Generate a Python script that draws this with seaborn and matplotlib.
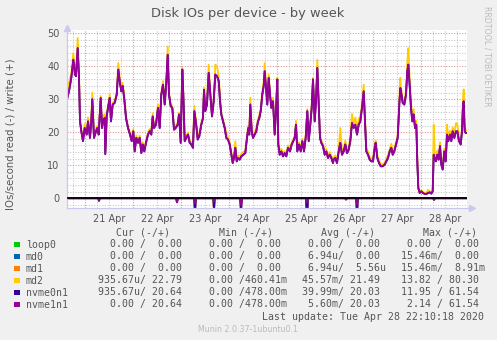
import matplotlib
matplotlib.use("Agg")
import numpy as np
import pandas as pd
import matplotlib.pyplot as plt
import seaborn as sns
from matplotlib.ticker import MultipleLocator, FuncFormatter, NullFormatter
from matplotlib.patches import Rectangle

# ---------------- data ----------------
devices = ["loop0", "md0", "md1", "md2", "nvme0n1", "nvme1n1"]
colors = ["#00CC00", "#0066B3", "#FF8000", "#FFCC00", "#330099", "#990099"]
day_labels = ["21 Apr", "22 Apr", "23 Apr", "24 Apr", "25 Apr", "26 Apr", "27 Apr", "28 Apr"]

# hours since 21 Apr 00:00 (write side, +)
w_hours = [-9.15, -8.15, -7.0, -6.0, -5.15, -4.65, -3.8, -3.15, -2.65, -2.0, -1.15, -0.3,
           0.7, 1.35, 2.35, 3.0, 3.5, 4.35, 5.35, 6.0, 6.7, 7.7, 8.35, 9.0, 9.7, 10.0, 10.7,
           11.35, 12.2, 12.85, 13.7, 14.7, 15.7, 16.5, 17.2, 18.0, 18.7, 19.5, 20.35, 21.35,
           22.35, 23.2, 24.0, 24.7, 25.5, 26.35, 27.2, 28.0, 28.7, 29.5, 30.35, 31.35, 32.2,
           33.0, 33.7, 34.35, 35.35, 36.35, 37.2, 38.0, 38.85, 39.7, 40.5, 41.2, 41.85, 42.7,
           43.5, 44.35, 45.2, 46.2, 46.85, 47.7, 48.5, 49.0, 49.7, 50.5, 51.35, 52.2, 53.0,
           53.85, 54.5, 55.35, 56.2, 57.0,
           58.0, 58.85, 59.35, 60.0, 60.85, 61.7, 62.5, 63.35, 64.2, 65.0, 65.85, 66.7, 67.35,
           68.0, 68.85, 69.7, 70.5, 71.35, 72.2, 73.0, 73.7, 74.35, 75.0, 75.7, 76.35, 77.2,
           78.0, 79.0, 80.0, 80.85, 81.5, 82.0, 82.5, 83.2, 83.85, 84.7, 85.5, 86.35, 87.0,
           87.7, 88.5, 89.2, 89.7, 90.35, 91.0, 91.7, 92.35, 93.0, 93.85, 94.7, 95.35, 96.0,
           96.5, 97.2, 98.0, 98.85, 99.7, 100.5, 101.35, 102.35, 103.2, 104.0, 104.7, 105.35,
           106.0, 106.85, 107.7, 108.5, 109.35, 110.2, 111.0, 111.7, 112.5, 113.2, 113.85,
           114.7, 115.35, 116.0, 116.7, 117.35, 118.0, 118.85, 119.7, 120.5, 121.35, 122.2,
           123.0, 123.85,
           124.2, 125.0, 125.85, 126.7, 127.5, 128.35, 129.2, 130.0, 130.85, 131.7, 132.5,
           133.35, 134.2, 135.0, 135.85, 136.7, 137.5, 138.35, 139.2, 139.85, 140.5, 141.35,
           142.2, 143.0, 143.85, 144.7, 145.2, 146.0, 146.85, 147.7, 148.7, 149.7, 150.5,
           151.35, 152.2, 153.0, 153.7, 154.5, 155.35, 156.2, 157.0, 157.5, 157.85, 158.7,
           159.5, 160.35, 161.0, 161.5, 162.2, 162.85, 163.5, 164.2, 164.85, 165.5, 166.0,
           166.5, 167.2, 168.0, 168.85, 169.7, 170.5, 171.35, 172.2, 173.0, 173.7, 174.2,
           174.7, 175.35, 176.0, 176.7, 177.35, 178.0, 178.7, 179.5, 180.2, 180.85, 181.5,
           182.35, 183.0, 183.7, 184.5, 185.35, 186.0, 186.85, 187.7, 188.35, 188.85, 189.2,
           189.7, 190.2, 190.85]

nvme1n1_w = [30.0, 32.4, 36.5, 42.0, 37.5, 37.0, 45.5, 36.5, 23.3, 20.3, 17.3, 21.3,
             19.3, 23.3, 18.3, 23.3, 30.0, 18.3, 20.3, 21.3, 19.3, 30.4, 21.3, 23.8, 24.3, 13.4, 24.8,
             27.4, 30.4, 23.3, 28.4, 28.9, 31.4, 39.0, 35.5, 32.4, 34.0, 30.0, 24.3, 21.3,
             19.3, 17.3, 20.3, 14.2, 18.3, 16.8, 18.3, 13.7, 16.3, 14.2, 16.8, 19.3, 20.3,
             19.3, 24.8, 21.3, 22.3, 27.4, 21.3, 31.4, 34.4, 28.4, 35.0, 43.5, 31.4, 27.9,
             27.4, 20.8, 21.3, 22.3, 25.4, 16.8, 39.0, 31.4, 17.3, 18.3, 19.3, 16.8, 16.3,
             15.3, 26.4, 22.8, 17.8, 18.8,
             22.3, 24.3, 32.9, 26.4, 28.4, 38.0, 31.4, 24.8, 29.4, 37.5, 37.0, 35.5, 29.4,
             25.4, 23.3, 21.3, 18.3, 17.8, 16.3, 13.2, 10.7, 12.2, 15.3, 11.2, 12.2, 11.7,
             12.7, 13.2, 13.7, 18.3, 21.3, 19.3, 28.4, 20.3, 18.3, 19.3, 20.3, 23.3, 24.3,
             26.4, 31.4, 34.0, 38.5, 33.4, 28.4, 36.5, 31.4, 27.4, 29.4, 19.3, 26.4, 36.0,
             16.3, 13.2, 14.2, 12.7, 13.7, 12.7, 15.3, 14.2, 16.3, 17.3, 18.3, 22.3,
             14.2, 16.3, 14.2, 17.3, 14.2, 18.3, 26.4, 17.3, 22.3, 27.4, 36.0,
             23.3, 29.4, 39.5, 28.4, 18.3, 16.8, 15.8, 13.2, 14.2, 12.2, 13.2,
             12.2, 10.7,
             11.7, 12.2, 10.7, 14.2, 16.8, 13.2, 14.2, 16.3, 13.7, 14.7, 17.3,
             22.8, 21.3, 22.3, 19.3, 22.3, 23.3, 27.4, 32.4, 23.3, 14.2, 13.2,
             11.7, 11.2, 11.2, 15.3, 16.8, 12.2, 10.7, 9.7, 9.7, 10.2, 11.2,
             12.2, 14.2, 15.3, 13.2, 14.2, 16.3, 18.3, 28.4, 33.4, 32.4, 28.9,
             28.4, 31.4, 38.5, 40.5, 34.0, 27.4, 23.3, 25.4, 21.3, 22.3, 11.2,
             3.1, 1.6, 2.1, 1.6, 1.3, 1.3, 1.6, 1.8, 1.4, 2.1, 13.2,
             12.2, 11.2, 13.2, 11.7, 15.8, 10.2, 8.7, 14.2, 11.2, 19.3, 17.3,
             19.3, 17.3, 20.3, 18.3, 20.3, 20.3, 17.3, 16.3, 20.3, 28.4, 29.4,
             20.3, 19.8, 19.8]

md2_w = [31.5, 35.0, 38.0, 44.0, 39.0, 38.0, 48.6, 38.0, 24.0, 21.0, 18.0, 22.5,
         20.0, 24.5, 19.0, 24.0, 32.0, 19.0, 21.0, 22.0, 20.0, 31.0, 22.0, 25.0, 25.5, 14.0, 25.5,
         28.0, 31.5, 24.0, 29.0, 29.5, 32.0, 41.0, 36.5, 33.5, 35.0, 31.0, 25.0, 22.0,
         20.0, 18.0, 21.0, 15.0, 19.0, 17.5, 19.0, 14.5, 17.0, 15.0, 17.5, 20.0, 21.0,
         20.0, 25.8, 22.0, 23.0, 28.5, 22.0, 32.0, 35.5, 29.0, 36.0, 46.0, 32.0, 28.5,
         28.0, 21.5, 22.0, 23.0, 26.0, 17.5, 39.5, 32.0, 18.0, 19.0, 20.0, 17.5, 17.0,
         16.0, 28.0, 23.5, 18.5, 19.5,
         23.0, 25.0, 33.5, 27.0, 29.5, 40.5, 32.0, 25.5, 30.0, 40.5, 40.0, 37.0, 31.4,
         26.0, 24.0, 22.0, 19.8, 18.5, 17.0, 14.0, 11.5, 13.0, 17.3, 12.0, 13.0, 12.5,
         13.5, 14.0, 14.5, 19.0, 22.0, 20.0, 30.5, 21.0, 19.0, 20.0, 21.5, 24.0, 25.5,
         27.0, 32.5, 35.5, 41.0, 34.5, 29.5, 37.5, 32.0, 28.0, 30.5, 20.0, 27.0, 36.5,
         17.0, 14.0, 15.0, 13.5, 14.3, 13.3, 16.0, 15.0, 17.0, 18.0, 19.0, 23.5,
         15.0, 17.0, 15.0, 18.0, 15.0, 19.0, 27.0, 18.0, 23.0, 28.0, 36.5,
         24.0, 30.0, 42.0, 29.0, 19.0, 17.5, 16.5, 14.0, 15.0, 13.0, 14.0,
         13.0, 11.5,
         12.3, 13.0, 11.5, 15.0, 21.3, 14.0, 15.0, 17.5, 14.5, 15.5, 18.5,
         25.6, 22.5, 24.5, 21.0, 24.0, 25.0, 28.5, 34.4, 24.5, 15.5, 14.0,
         12.5, 12.0, 12.0, 16.3, 17.5, 13.0, 11.5, 10.3, 10.3, 10.8, 12.0,
         13.0, 15.0, 16.5, 14.0, 15.0, 17.0, 19.0, 30.0, 36.5, 33.5, 30.0,
         29.5, 32.5, 41.0, 45.5, 36.0, 29.0, 25.0, 27.0, 22.5, 23.5, 12.0,
         3.5, 2.0, 2.4, 1.9, 1.6, 1.6, 2.6, 2.1, 1.7, 2.5, 22.3,
         13.5, 12.5, 14.5, 12.5, 17.0, 11.0, 9.5, 15.0, 12.0, 22.3, 18.5,
         20.5, 18.5, 21.5, 19.5, 22.8, 22.5, 18.5, 17.0, 21.0, 30.0, 33.0,
         21.5, 20.5, 20.5]

nvme0n1_w = list(nvme1n1_w)   # mirrored pair: identical write rates

# read side (-), magnitudes
r_hours = [-9.15, 6.35, 6.85, 7.35, 45.35, 45.85, 46.35, 54.35, 54.85, 55.35,
           63.85, 64.35, 64.85, 77.35, 77.85, 78.35, 110.35, 110.85, 111.35,
           129.85, 130.35, 130.85, 135.35, 135.85, 136.35, 173.85, 174.35, 174.85, 190.85]
md2_r = [0, 0, 0.9, 0, 0, 1.3, 0, 0, 6.0, 0,
         0, 4.0, 0, 0, 5.0, 0, 0, 13.82, 0,
         0, 0.5, 0, 0, 7.0, 0, 0, 0.5, 0, 0]
nvme0n1_r = [0, 0, 0.8, 0, 0, 1.2, 0, 0, 5.0, 0,
             0, 3.5, 0, 0, 4.5, 0, 0, 11.95, 0,
             0, 0.4, 0, 0, 6.0, 0, 0, 0.5, 0, 0]
nvme1n1_r = [0, 0, 0.6, 0, 0, 1.2, 0, 0, 1.5, 0,
             0, 1.0, 0, 0, 2.1, 0, 0, 1.2, 0,
             0, 0.3, 0, 0, 2.0, 0, 0, 0.4, 0, 0]
zero_hours = [-9.15, 190.85]
zero_vals = [0.0, 0.0]

# legend table
cur_txt = ["  0.00 /  0.00", "  0.00 /  0.00", "  0.00 /  0.00",
           "935.67u/ 22.79", "935.67u/ 20.64", "  0.00 / 20.64"]
min_txt = ["  0.00 /  0.00", "  0.00 /  0.00", "  0.00 /  0.00",
           "  0.00 /460.41m", "  0.00 /478.00m", "  0.00 /478.00m"]
avg_txt = ["  0.00 /  0.00", "  6.94u/  0.00", "  6.94u/  5.56u",
           " 45.57m/ 21.49", " 39.99m/ 20.03", "  5.60m/ 20.03"]
max_txt = ["  0.00 /  0.00", " 15.46m/  0.00", " 15.46m/  8.91m",
           " 13.82 / 80.30", " 11.95 / 61.54", "  2.14 / 61.54"]

# ---------------- build frame ----------------
rows = []
def add(dev, direction, hrs, vals, sign):
    for h, v in zip(hrs, vals):
        rows.append({"hours": h, "value": sign * v, "device": dev, "dir": direction})

for dev in ["loop0", "md0", "md1"]:
    add(dev, "read", zero_hours, zero_vals, -1)
    add(dev, "write", zero_hours, zero_vals, 1)
add("md2", "read", r_hours, md2_r, -1)
add("md2", "write", w_hours, md2_w, 1)
add("nvme0n1", "read", r_hours, nvme0n1_r, -1)
add("nvme0n1", "write", w_hours, nvme0n1_w, 1)
add("nvme1n1", "read", r_hours, nvme1n1_r, -1)
add("nvme1n1", "write", w_hours, nvme1n1_w, 1)
df = pd.DataFrame(rows)

# ---------------- plot ----------------
sns.set_style("white")
plt.rcParams["font.family"] = ["DejaVu Sans"]
TXT = "#555555"

W, H = 497, 340
fig = plt.figure(figsize=(W / 100, H / 100), dpi=100, facecolor="#F0F0F0")
ax = fig.add_axes([67 / W, 1 - 208 / H, 400 / W, 178 / H])
ax.set_facecolor("white")

sns.lineplot(data=df, x="hours", y="value", hue="device", units="dir",
             estimator=None, hue_order=devices, palette=dict(zip(devices, colors)),
             linewidth=1.3, legend=False, sort=False, ax=ax)
ax.axhline(0, color="black", lw=1.2, zorder=5)

ax.set_xlim(-9.15, 190.85)
ax.set_ylim(-2.94, 51.0)

ax.xaxis.set_major_locator(MultipleLocator(24))
ax.xaxis.set_minor_locator(MultipleLocator(6))
ax.xaxis.set_major_formatter(NullFormatter())

def xfmt(x, pos):
    k = (x - 12) / 24
    kr = int(round(k))
    if abs(k - kr) < 1e-6 and 0 <= kr < len(day_labels):
        return day_labels[kr]
    return ""
ax.xaxis.set_minor_formatter(FuncFormatter(xfmt))

ax.yaxis.set_major_locator(MultipleLocator(10))
ax.yaxis.set_minor_locator(MultipleLocator(2))

ax.set_axisbelow(True)
ax.grid(which="minor", color="#c8c8c8", linestyle=(0, (1, 1.4)), lw=0.8)
ax.grid(which="major", color="#e49494", linestyle=(0, (1, 1.4)), lw=0.8)

ax.tick_params(axis="y", which="major", length=2, width=0.6, color="#b8b8d8",
               labelsize=7, labelcolor=TXT, pad=3.5)
ax.tick_params(axis="y", which="minor", length=1, width=0.5, color="#c8c8e0")
ax.tick_params(axis="x", which="major", length=2, width=0.6, color="#e0a0a0")
ax.tick_params(axis="x", which="minor", length=1.5, width=0.5, color="#c8c8e0",
               labelsize=7, labelcolor=TXT, pad=3.0)
ax.set_xlabel("")
ax.set_ylabel("")

for s in ["top", "right"]:
    ax.spines[s].set_visible(False)
for s in ["left", "bottom"]:
    ax.spines[s].set_color("#c8c8f0")
    ax.spines[s].set_linewidth(0.9)
ax.plot([1.0, 1.01], [0, 0], color="#c8c8f0", lw=0.9, transform=ax.transAxes, clip_on=False)
ax.plot([1.012], [0], marker=">", ms=4, color="#c8c8f0", transform=ax.transAxes, clip_on=False)
ax.plot([0], [1.012], marker="^", ms=4, color="#c8c8f0", transform=ax.transAxes, clip_on=False)

# texts
fig.text(247.5 / W, 1 - 13 / H, "Disk IOs per device - by week", ha="center", va="center",
         fontsize=9.4, color=TXT)
fig.text(10.8 / W, 1 - 134 / H, "IOs/second read (-) / write (+)", rotation=90,
         ha="center", va="center", fontsize=7.3, color=TXT)
fig.text(487.3 / W, 1 - 56 / H, "RRDTOOL / TOBI OETIKER", rotation=270,
         ha="center", va="center", fontsize=5.7, color="#bbbbbb")

mono = "DejaVu Sans Mono"
FS = 7.15
hdr_y = 232.5
for x, t in [(116, "Cur (-/+)"), (219, "Min (-/+)"), (321, "Avg (-/+)"), (422.7, "Max (-/+)")]:
    fig.text(x / W, 1 - hdr_y / H, t, family=mono, fontsize=FS, color=TXT, va="center", ha="left")

for i, dev in enumerate(devices):
    yc = 244.5 + 12 * i
    fig.patches.append(Rectangle((14 / W, 1 - (yc + 2.8) / H), 5.5 / W, 5.5 / H,
                                 transform=fig.transFigure, facecolor=colors[i],
                                 edgecolor="none"))
    fig.text(26 / W, 1 - yc / H, dev, family=mono, fontsize=FS, color=TXT, va="center")
    fig.text(98.1 / W, 1 - yc / H, cur_txt[i], family=mono, fontsize=FS, color=TXT, va="center")
    fig.text(197.4 / W, 1 - yc / H, min_txt[i], family=mono, fontsize=FS, color=TXT, va="center")
    fig.text(296.4 / W, 1 - yc / H, avg_txt[i], family=mono, fontsize=FS, color=TXT, va="center")
    fig.text(395.4 / W, 1 - yc / H, max_txt[i], family=mono, fontsize=FS, color=TXT, va="center")

fig.text(484 / W, 1 - 316.5 / H, "Last update: Tue Apr 28 22:10:18 2020", family=mono,
         fontsize=FS, color=TXT, va="center", ha="right")
fig.text(247.8 / W, 1 - 329.3 / H, "Munin 2.0.37-1ubuntu0.1", fontsize=5.7,
         color="#bbbbbb", va="center", ha="center")

fig.savefig("out.png", dpi=100, facecolor=fig.get_facecolor())
